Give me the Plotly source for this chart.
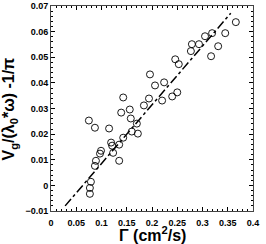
import plotly.graph_objects as go

gamma = [0.366, 0.345, 0.319, 0.305, 0.293, 0.279, 0.277, 0.331, 0.317, 0.246,
         0.253, 0.196, 0.206, 0.224, 0.250, 0.240, 0.220, 0.194, 0.184, 0.143,
         0.139, 0.156, 0.158, 0.075, 0.087, 0.115, 0.170, 0.160, 0.172, 0.143,
         0.119, 0.121, 0.135, 0.099, 0.097, 0.123, 0.135, 0.089, 0.087, 0.079,
         0.077, 0.077]
vg = [0.0637, 0.0594, 0.0594, 0.0582, 0.0551, 0.0551, 0.0524, 0.0543, 0.0504, 0.0492,
      0.0473, 0.0433, 0.0390, 0.0402, 0.0363, 0.0347, 0.0331, 0.0339, 0.0312, 0.0343,
      0.0284, 0.0296, 0.0261, 0.0253, 0.0225, 0.0222, 0.0241, 0.0210, 0.0202, 0.0186,
      0.0167, 0.0155, 0.0159, 0.0135, 0.0124, 0.0127, 0.0096, 0.0096, 0.0076, 0.0014,
      -0.0010, -0.0033]

fit_x = [0.028, 0.356]
fit_y = [-0.008, 0.0672]

x_title = "<b>Γ (cm<sup>2</sup>/s)</b>"
y_title = "<b>V<sub>g</sub>/(λ<sub>0</sub>*ω) -1/π</b>"

fig = go.Figure()
fig.add_trace(go.Scatter(x=fit_x, y=fit_y, mode="lines",
                         line=dict(color="black", width=1.5, dash="dashdot"),
                         showlegend=False))
fig.add_trace(go.Scatter(x=gamma, y=vg, mode="markers",
                         marker=dict(symbol="circle-open", size=7, color="black",
                                     line=dict(width=0.9)),
                         showlegend=False))

tickfont = dict(family="Liberation Sans Narrow, Arial Narrow, Liberation Sans", size=9,
                color="black", weight="bold")
titlefont = dict(family="Liberation Sans, Arial", size=16, color="black")

axis_common = dict(ticks="inside", ticklen=4, tickwidth=1, tickcolor="black",
                   showline=True, linecolor="#444", linewidth=1, mirror="allticks",
                   showgrid=False, zeroline=False, tickfont=tickfont, automargin=False)

fig.update_layout(
    width=266, height=244,
    margin=dict(l=51, r=13, t=6, b=33),
    paper_bgcolor="white", plot_bgcolor="white",
    xaxis=dict(range=[0, 0.4], dtick=0.05, tick0=0, ticklabelstandoff=3,
               minor=dict(ticks="inside", ticklen=2, dtick=0.01, tickcolor="black", showgrid=False),
               **axis_common),
    yaxis=dict(range=[-0.01, 0.07], dtick=0.01, tick0=0,
               minor=dict(ticks="inside", ticklen=2, dtick=0.002, tickcolor="black", showgrid=False),
               **axis_common),
    annotations=[
        dict(text=x_title, xref="paper", yref="paper", x=0.5, y=-0.11,
             xanchor="center", yanchor="middle", showarrow=False, font=titlefont),
        dict(text=y_title, xref="paper", yref="paper", x=-0.203, y=0.5,
             xanchor="center", yanchor="middle", showarrow=False, font=titlefont,
             textangle=-90),
    ],
)

fig.write_html("out.html", post_script="document.body.style.margin='0';",
               config={"displayModeBar": False})
